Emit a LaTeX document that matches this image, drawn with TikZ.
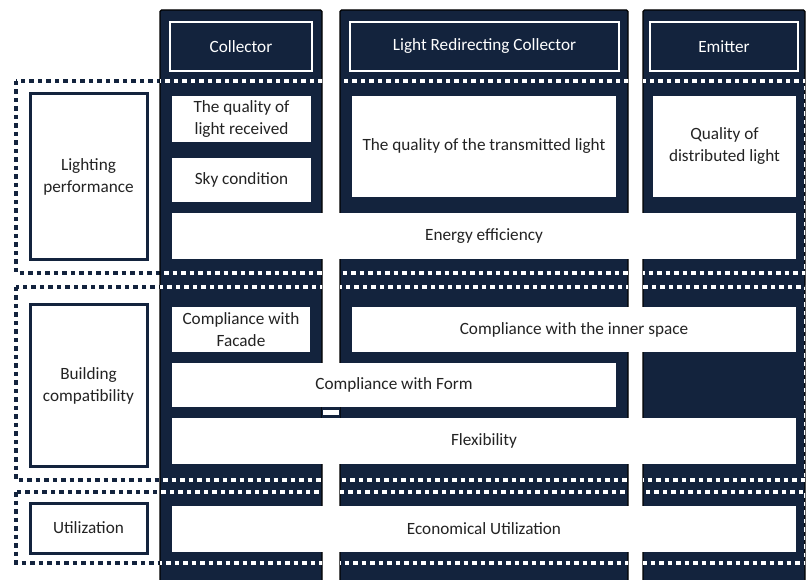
\documentclass[tikz,border=0pt]{standalone}
\usepackage{fontspec}
\setmainfont{Carlito}
\definecolor{navy}{RGB}{19,35,61}
\definecolor{ink}{RGB}{35,35,35}
\tikzset{
  column/.style={fill=navy, draw=black, line width=1.2pt, rounded corners=1.5pt},
  header/.style={fill=navy, draw=white, line width=2.5pt, text=white, inner sep=0pt, outer sep=0pt},
  criterion/.style={fill=white, draw=navy, line width=3pt, text=ink, align=center, inner sep=0pt, outer sep=0pt},
  item/.style={fill=white, text=ink, align=center, inner sep=0pt, outer sep=0pt},
  groupline/.style={line width=4.5pt, dash pattern=on 4.5pt off 4pt},
}
\begin{document}
\begin{tikzpicture}[x=1pt, y=-1pt, font=\fontsize{17.2}{22}\selectfont]
        \useasboundingbox (0,0) rectangle (807,580);
        % dotted group frames, left part
        \begin{scope}
          \clip (0,0) rectangle (160,580);
          \draw[groupline, navy] (16,81)  rectangle (806,273);
          \draw[groupline, navy] (16,287) rectangle (806,480);
          \draw[groupline, navy] (16,492) rectangle (806,563);
        \end{scope}
        % the three columns
        \draw[column] (160,10) rectangle (322,590);
        \draw[column] (340,10) rectangle (628,590);
        \draw[column] (643,10) rectangle (805,590);
        % dotted group frames, over the columns
        \begin{scope}
          \clip (160,10) rectangle (322,590) (340,10) rectangle (628,590) (643,10) rectangle (805,590);
          \draw[groupline, white] (16,81)  rectangle (806,273);
          \draw[groupline, white] (16,287) rectangle (806,480);
          \draw[groupline, white] (16,492) rectangle (806,563);
        \end{scope}
        % band in the first gap
        \fill[navy]  (322,407) rectangle (340,418);
        \fill[white] (323,410) rectangle (339,415);
        % column headers
        \node[header, minimum width=142pt, minimum height=49pt] (collector) at (241,46.5)   {Collector};
        \node[header, minimum width=269pt, minimum height=49pt] (redirect)  at (484.5,46.5) {Light Redirecting Collector};
        \node[header, minimum width=148pt, minimum height=49pt] (emitter)   at (724,46.5)   {Emitter};
        % criteria on the left
        \node[criterion, minimum width=117pt, minimum height=166pt] (lighting) at (88.5,177)   {Lighting\\performance};
        \node[criterion, minimum width=117pt, minimum height=161pt] (building) at (88.5,385.5) {Building\\compatibility};
        \node[criterion, minimum width=117pt, minimum height=50pt]  (utilize)  at (88.5,528)   {Utilization};
        % lighting performance
        \node[item, minimum width=139pt, minimum height=46pt]  (received)    at (241.5,119)   {The quality of\\light received};
        \node[item, minimum width=139pt, minimum height=44pt]  (sky)         at (241.5,180)   {Sky condition};
        \node[item, minimum width=264pt, minimum height=101pt] (transmitted) at (484,146.5)   {The quality of the transmitted light};
        \node[item, minimum width=143pt, minimum height=101pt] (distributed) at (724.5,146.5) {Quality of\\distributed light};
        \node[item, minimum width=624pt, minimum height=46pt]  (energy)      at (484,236)     {Energy efficiency};
        % building compatibility
        \node[item, minimum width=138pt, minimum height=45pt]  (facade)      at (241,329.5)   {Compliance with\\Facade};
        \node[item, minimum width=444pt, minimum height=45pt]  (inner)       at (574,329.5)   {Compliance with the inner space};
        \node[item, minimum width=444pt, minimum height=44pt]  (form)        at (394,385)     {Compliance with Form};
        \node[item, minimum width=624pt, minimum height=46pt]  (flexibility) at (484,441)     {Flexibility};
        % utilization
        \node[item, minimum width=624pt, minimum height=46pt]  (economical)  at (484,529)     {Economical Utilization};
      \end{tikzpicture}
\end{document}
